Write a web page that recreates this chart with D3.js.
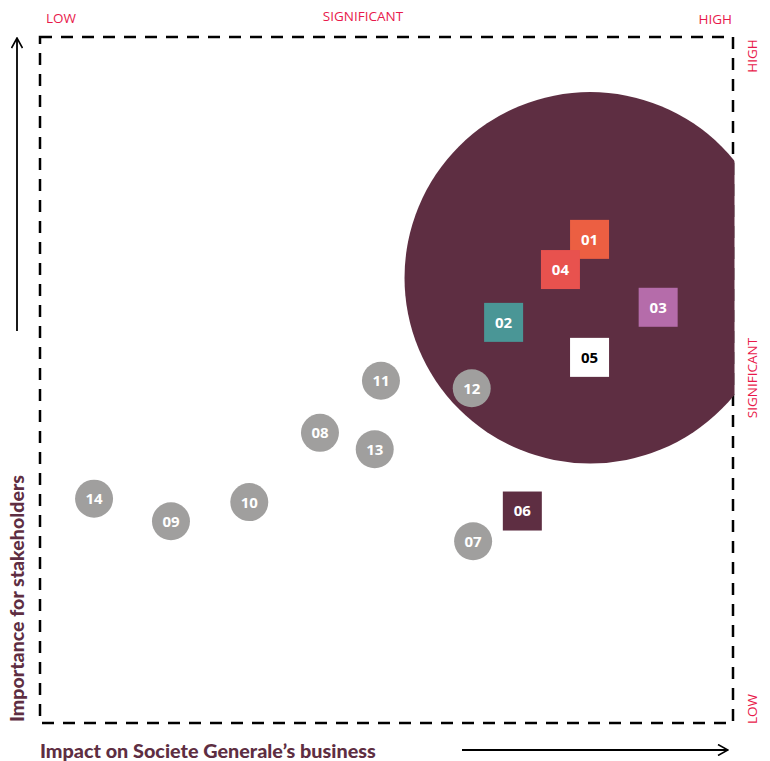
<!DOCTYPE html>
<html>
<head>
<meta charset="utf-8">
<script src="https://cdn.jsdelivr.net/npm/d3@7"></script>
<style>
  body { margin: 0; background: #fff; }
  svg { display: block; }
</style>
</head>
<body>
<div id="chart"></div>
<script>
// materiality matrix data
var ids        = ["01", "02", "03", "04", "05", "06", "07", "08", "09", "10", "11", "12", "13", "14"]
var impact     = [79.3, 66.9, 89.2, 75.1, 79.3, 69.6, 62.5, 40.4, 18.9, 30.2, 49.2, 62.3, 48.3, 7.8]
var importance = [70.5, 58.4, 60.6, 66.1, 53.3, 30.9, 26.5, 42.3, 29.4, 32.2, 49.9, 48.8, 39.9, 32.7]
var shapes     = ["square", "square", "square", "square", "square", "square", "circle", "circle", "circle", "circle", "circle", "circle", "circle", "circle"]
// draw order (04 sits on top of 01)
var drawOrder  = ["12", "11", "08", "13", "14", "09", "10", "07", "06", "02", "03", "05", "01", "04"]

// big highlighted zone
var zoneCenter = [79.4, 64.9]
var zoneRadius = 26.8

var xLevels = ["LOW", "SIGNIFICANT", "HIGH"]
var yLevels = ["LOW", "SIGNIFICANT", "HIGH"]

var colors = {
    "01": "#ec5f42", "02": "#4a9696", "03": "#b56caa", "04": "#e8524e",
    "05": "#ffffff", "06": "#5e2e42"
}
var grey = "#a09f9e"
var plum = "#5e2e42"
var red = "#e8194b"

var W = 770, H = 761

var x = d3.scaleLinear().domain([0, 100]).range([40, 733])
var y = d3.scaleLinear().domain([0, 100]).range([723, 37])

var svg = d3.select("#chart").append("svg")
    .attr("width", W)
    .attr("height", H)

// clip the zone just past the frame's right edge so it hides the dashes
svg.append("defs").append("clipPath")
    .attr("id", "frameclip")
    .append("rect")
    .attr("x", x(0)).attr("y", y(100))
    .attr("width", x(100) - x(0) + 1.5).attr("height", y(0) - y(100))

// arrow marker
svg.select("defs").append("marker")
    .attr("id", "arrow")
    .attr("viewBox", "0 0 12 12")
    .attr("refX", 11).attr("refY", 6)
    .attr("markerWidth", 12).attr("markerHeight", 12)
    .attr("markerUnits", "userSpaceOnUse")
    .attr("orient", "auto")
    .append("path")
    .attr("d", "M1,0.5 L11,6 L1,11.5")
    .attr("fill", "none")
    .attr("stroke", "#000")
    .attr("stroke-width", 1.6)

// dashed frame
svg.append("rect")
    .attr("x", x(0)).attr("y", y(100))
    .attr("width", x(100) - x(0)).attr("height", y(0) - y(100))
    .attr("fill", "none")
    .attr("stroke", "#000")
    .attr("stroke-width", 2.5)
    .attr("stroke-dasharray", "12,9")

// big zone
svg.append("circle")
    .attr("clip-path", "url(#frameclip)")
    .attr("cx", x(zoneCenter[0]))
    .attr("cy", y(zoneCenter[1]))
    .attr("r", x(zoneRadius) - x(0))
    .attr("fill", plum)

// markers
var data = ids.map(function (d, i) {
    return { id: d, x: impact[i], y: importance[i], shape: shapes[i] }
})
data.sort(function (a, b) { return drawOrder.indexOf(a.id) - drawOrder.indexOf(b.id) })

var g = svg.append("g")
var side = 39, r = 19

var item = g.selectAll(".item").data(data).enter().append("g")
    .attr("class", "item")
    .attr("transform", function (d) { return "translate(" + x(d.x) + "," + y(d.y) + ")" })

item.filter(function (d) { return d.shape == "square" })
    .append("rect")
    .attr("x", -side / 2).attr("y", -side / 2)
    .attr("width", side).attr("height", side)
    .attr("fill", function (d) { return colors[d.id] })

item.filter(function (d) { return d.shape == "circle" })
    .append("circle")
    .attr("r", r)
    .attr("fill", grey)

item.append("text")
    .attr("text-anchor", "middle")
    .attr("dy", "0.36em")
    .style("font-family", "'Open Sans', sans-serif")
    .style("font-weight", 700)
    .style("font-size", "15px")
    .attr("fill", function (d) { return d.id == "05" ? "#000" : "#fff" })
    .text(function (d) { return d.id })

// level labels along top
var labelFont = "'Open Sans', sans-serif"
svg.selectAll(".toplab").data(xLevels).enter().append("text")
    .attr("class", "toplab")
    .attr("x", function (d, i) { return [46, 363, 732][i] })
    .attr("y", function (d, i) { return [23, 21, 24][i] })
    .attr("text-anchor", function (d, i) { return ["start", "middle", "end"][i] })
    .style("font-family", labelFont)
    .style("font-size", "13.5px")
    .attr("fill", red)
    .text(function (d) { return d })

// level labels along right side
svg.selectAll(".sidelab").data(yLevels).enter().append("text")
    .attr("class", "sidelab")
    .attr("transform", function (d, i) {
        var yy = [709, 378, 56][i]
        return "translate(757," + yy + ") rotate(-90)"
    })
    .attr("text-anchor", "middle")
    .style("font-family", labelFont)
    .style("font-size", "13.5px")
    .attr("fill", red)
    .text(function (d) { return d })

// axis arrows
svg.append("line")
    .attr("x1", 17).attr("y1", 331).attr("x2", 17).attr("y2", 38)
    .attr("stroke", "#000").attr("stroke-width", 1.8)
    .attr("marker-end", "url(#arrow)")

svg.append("line")
    .attr("x1", 462).attr("y1", 750).attr("x2", 728).attr("y2", 750)
    .attr("stroke", "#000").attr("stroke-width", 1.8)
    .attr("marker-end", "url(#arrow)")

// axis titles
svg.append("text")
    .attr("x", 40).attr("y", 758)
    .style("font-family", "Lato, sans-serif")
    .style("font-weight", 900)
    .style("font-size", "19.8px")
    .attr("fill", plum)
    .text("Impact on Societe Generale\u2019s business")

svg.append("text")
    .attr("transform", "translate(24,722) rotate(-90)")
    .style("font-family", "Lato, sans-serif")
    .style("font-weight", 900)
    .style("font-size", "19.6px")
    .attr("fill", plum)
    .text("Importance for stakeholders")
</script>
</body>
</html>
